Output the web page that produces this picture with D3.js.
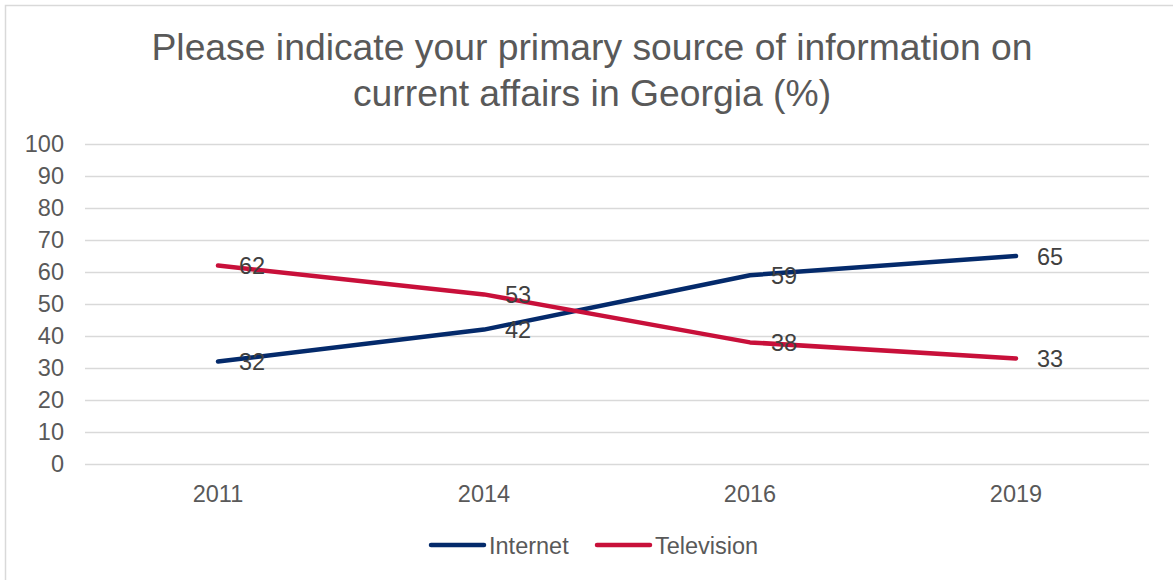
<!DOCTYPE html>
<html>
<head>
<meta charset="utf-8">
<script src="https://cdn.jsdelivr.net/npm/d3@7"></script>
<style>
  html, body { margin: 0; padding: 0; background: #fff; }
  svg { display: block; font-family: "Liberation Sans", Arial, sans-serif; }
</style>
</head>
<body>
<svg id="chart" width="1173" height="580"></svg>
<script>
// Survey years and the share naming each source as primary (%)
const years = ["2011", "2014", "2016", "2019"];
const internet = [32, 42, 59, 65];
const television = [62, 53, 38, 33];
const yTicks = [0, 10, 20, 30, 40, 50, 60, 70, 80, 90, 100];
const seriesNames = ["Internet", "Television"];
const seriesColors = ["#042A6B", "#C8103A"];

const series = [
  { name: seriesNames[0], color: seriesColors[0], values: internet },
  { name: seriesNames[1], color: seriesColors[1], values: television }
];

const svg = d3.select("#chart");
const W = 1173, H = 580;
const margin = { left: 85, right: 24, top: 144, bottom: 116 };
const fs = 23.5;

// outer frame
svg.append("rect")
  .attr("x", 5.5).attr("y", 5.5)
  .attr("width", W).attr("height", H)
  .attr("fill", "none").attr("stroke", "#d9d9d9").attr("stroke-width", 1.5);

// title
const title = svg.append("text")
  .attr("text-anchor", "middle")
  .attr("fill", "#595959")
  .attr("font-size", 37.3);
title.append("tspan").attr("x", 592).attr("y", 60).text("Please indicate your primary source of information on");
title.append("tspan").attr("x", 592).attr("y", 106).text("current affairs in Georgia (%)");

const x = d3.scaleBand().domain(years).range([margin.left, W - margin.right]);
const y = d3.scaleLinear().domain([0, 100]).range([H - margin.bottom, margin.top]);

// gridlines
svg.append("g")
  .selectAll("line")
  .data(yTicks)
  .join("line")
  .attr("x1", margin.left).attr("x2", W - margin.right)
  .attr("y1", d => Math.round(y(d)) + 0.5).attr("y2", d => Math.round(y(d)) + 0.5)
  .attr("stroke", "#d9d9d9").attr("stroke-width", 1.5);

// y axis labels
const yAxis = svg.append("g")
  .attr("transform", `translate(${margin.left - 21},0)`)
  .call(d3.axisLeft(y).tickValues(yTicks).tickSize(0).tickPadding(0));
yAxis.select(".domain").remove();
yAxis.selectAll("text")
  .attr("fill", "#595959").attr("font-size", fs)
  .attr("font-family", "Liberation Sans, Arial, sans-serif");

// x axis labels
const xAxis = svg.append("g")
  .attr("transform", `translate(0,${H - margin.bottom})`)
  .call(d3.axisBottom(x).tickSize(0).tickPadding(0));
xAxis.select(".domain").remove();
xAxis.selectAll("text")
  .attr("dy", null)
  .attr("y", 38)
  .attr("fill", "#595959").attr("font-size", fs)
  .attr("font-family", "Liberation Sans, Arial, sans-serif");

const cx = d => x(d) + x.bandwidth() / 2;
const line = d3.line()
  .x((v, i) => cx(years[i]))
  .y(v => y(v));

// series lines
svg.append("g")
  .selectAll("path")
  .data(series)
  .join("path")
  .attr("d", s => line(s.values))
  .attr("fill", "none")
  .attr("stroke", s => s.color)
  .attr("stroke-width", 4.5)
  .attr("stroke-linecap", "round")
  .attr("stroke-linejoin", "round");

// value labels to the right of each point
series.forEach(s => {
  svg.append("g")
    .selectAll("text")
    .data(s.values)
    .join("text")
    .attr("x", (v, i) => cx(years[i]) + 21)
    .attr("y", v => y(v) + 8.5)
    .attr("fill", "#404040")
    .attr("font-size", fs)
    .text(v => v);
});

// legend
const legend = svg.append("g").attr("transform", "translate(0,545)");
const legendX = [431, 597];
series.forEach((s, i) => {
  const g = legend.append("g").attr("transform", `translate(${legendX[i]},0)`);
  g.append("line")
    .attr("x1", 0).attr("x2", 53).attr("y1", 0).attr("y2", 0)
    .attr("stroke", s.color).attr("stroke-width", 4.5).attr("stroke-linecap", "round");
  g.append("text")
    .attr("x", 58).attr("y", 8.5)
    .attr("fill", "#595959").attr("font-size", fs)
    .text(s.name);
});
</script>
</body>
</html>
